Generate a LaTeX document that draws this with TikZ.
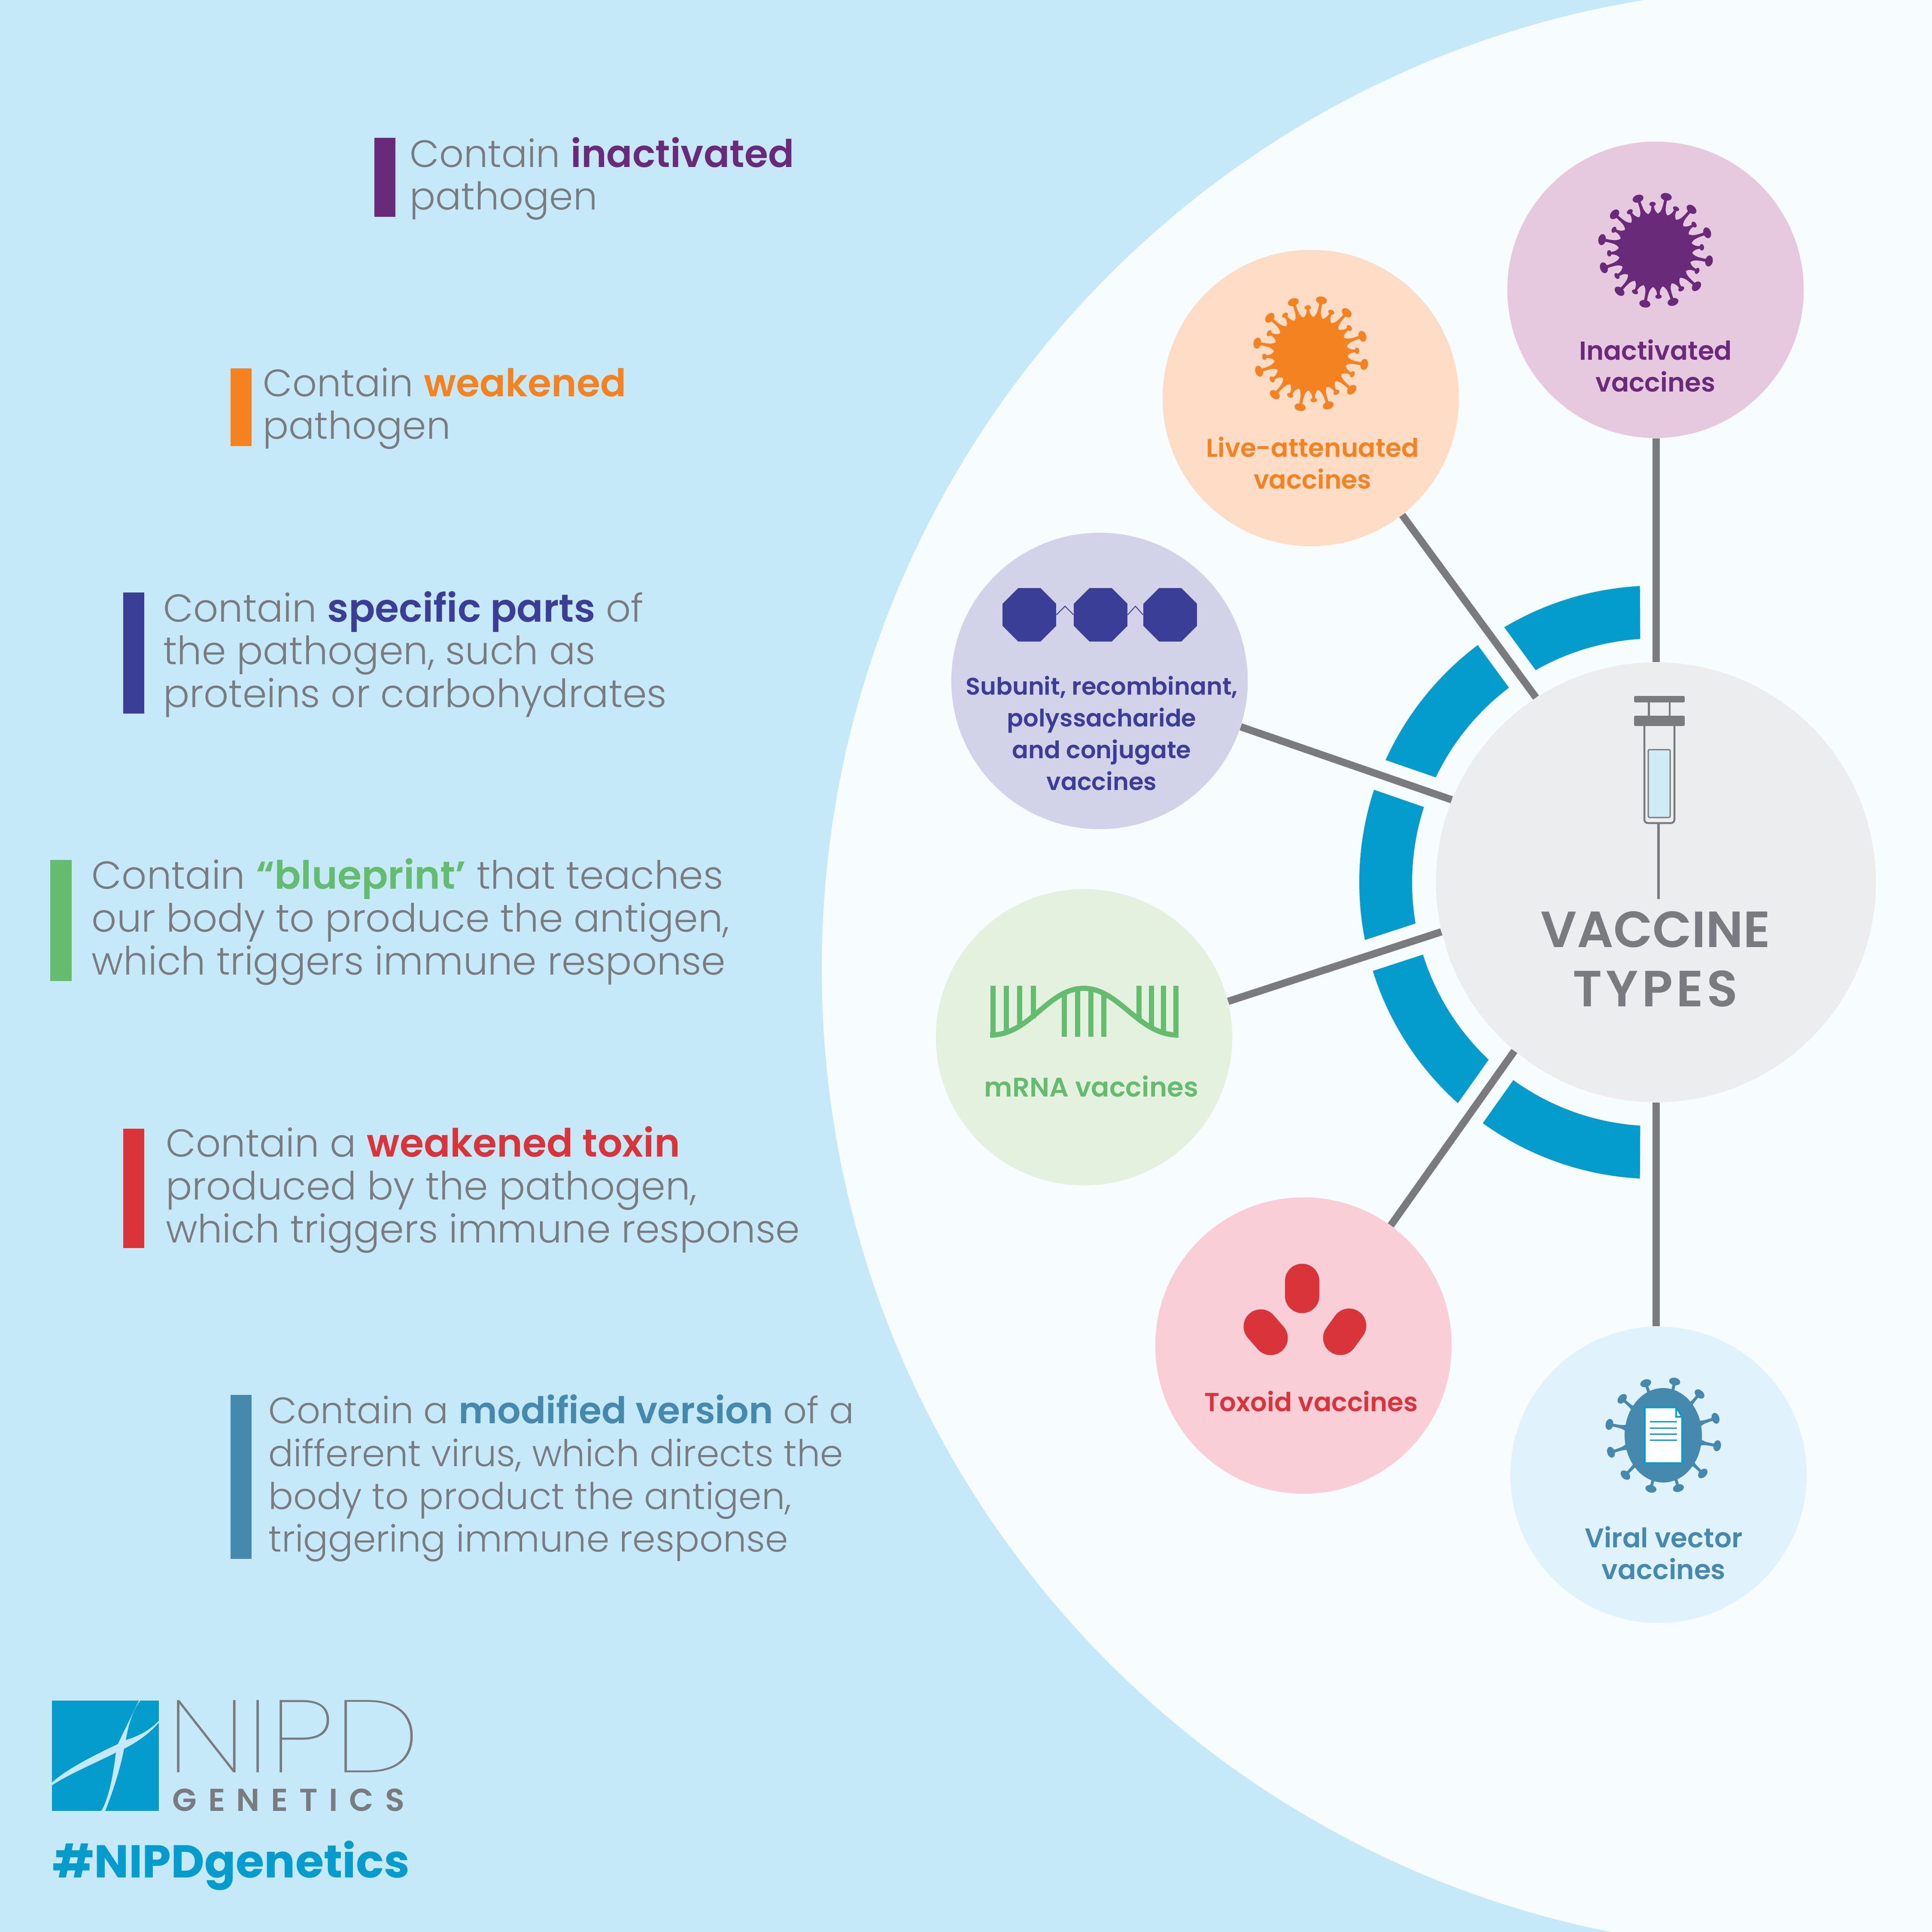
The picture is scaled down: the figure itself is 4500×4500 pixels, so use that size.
\documentclass[tikz,border=0pt]{standalone}
\usepackage{fontspec}
\setmainfont{Poppins}
\newfontfamily\poplight{Poppins Light}
\newfontfamily\popsemi{Poppins SemiBold}
\newfontfamily\popthin{Poppins Thin}
\usetikzlibrary{positioning,shapes.geometric}

\definecolor{skyback}{HTML}{C5E9F8}
\definecolor{paleback}{HTML}{F7FCFF}
\definecolor{ringblue}{HTML}{049CCD}
\definecolor{linkgray}{HTML}{797B7F}
\definecolor{hubgray}{HTML}{ECEDEE}
\definecolor{liquid}{HTML}{CFECF5}
\definecolor{inactpurple}{HTML}{6A2A7A}
\definecolor{inactsoft}{HTML}{E6C8DF}
\definecolor{liveorange}{HTML}{F58220}
\definecolor{livesoft}{HTML}{FFDCC6}
\definecolor{subnavy}{HTML}{3B3E96}
\definecolor{subsoft}{HTML}{D2D2E9}
\definecolor{rnagreen}{HTML}{64BC6F}
\definecolor{rnasoft}{HTML}{E5F1DF}
\definecolor{toxred}{HTML}{DA343B}
\definecolor{toxsoft}{HTML}{F9CED7}
\definecolor{viralteal}{HTML}{4589AE}
\definecolor{viralsoft}{HTML}{E0F3FD}

\tikzset{
  typecircle/.style={circle,minimum size=6.9cm,inner sep=0},
  typelabel/.style={inner sep=0,align=center,font=\popsemi\fontsize{17.3}{21}\selectfont},
  link/.style={draw=linkgray,line width=0.17cm},
  ringcut/.style={draw=paleback,line width=0.74cm},
  notebar/.style={rectangle,minimum width=0.49cm,inner sep=0},
  note/.style={inner sep=0,yshift=-0.03cm,align=left,text=linkgray,font=\poplight\fontsize{25.8}{28.4}\selectfont},
  octa/.style={regular polygon,regular polygon sides=8,
    minimum size=1.35cm,inner sep=0,fill=subnavy},
  capsule/.style={rectangle,rounded corners=0.4cm,minimum width=1.15cm,minimum height=0.8cm,
    inner sep=0,fill=toxred},
}

\newcommand{\hl}[2]{{\popsemi\color{#1}#2}}
% one spike: angle, head distance, head half width
\newcommand{\virusspike}[3]{%
  \fill (#1-9:84) .. controls (#1-3:90) and (#1-1.6:96) .. (#1-1.6:#2)
    -- (#1+1.6:#2) .. controls (#1+1.6:96) and (#1+3:90) .. (#1+9:84) -- cycle;
  \fill[shift={(#1:#2)},rotate=#1] (0,0) ellipse[x radius=0.68*#3,y radius=#3];
}

\begin{document}
\begin{tikzpicture}[x=0.01cm,y=0.01cm]
  \useasboundingbox (0,0) rectangle (4500,-4500);
  \clip (0,0) rectangle (4500,-4500);
  \fill[skyback] (0,0) rectangle (4500,-4500);
  \fill[paleback] (4201,-2257) circle (2287);

  % ring round the hub
  \coordinate (ringc) at (3857,-2055);
  \fill[ringblue] ([shift={(93.1:691)}]ringc) arc[start angle=93.1,end angle=266.9,radius=691]
    -- ([shift={(266.3:568)}]ringc) arc[start angle=266.3,end angle=93.7,radius=568] -- cycle;

  % circles
  \node[typecircle,fill=hubgray,minimum size=10.24cm] (hub) at (3857,-2055) {};
  \node[typecircle,fill=inactsoft] (inact) at (3856,-675) {};
  \node[typecircle,fill=livesoft] (live) at (3053,-927) {};
  \node[typecircle,fill=subsoft] (sub) at (2561,-1586) {};
  \node[typecircle,fill=rnasoft] (rna) at (2525,-2416) {};
  \node[typecircle,fill=toxsoft] (tox) at (3036,-3134) {};
  \node[typecircle,fill=viralsoft] (viral) at (3863,-3435) {};

  % gaps in the ring, then the links
  \path[ringcut] (live.-52.8) -- (hub.123);
  \path[ringcut] (sub.-18.5) -- (hub.158.1);
  \path[ringcut] (rna.14.8) -- (hub.193.4);
  \path[ringcut] (tox.54.1) -- (hub.230.9);
  \path[link] (hub.north) -- (hub.north |- inact.south);
  \path[link] (live.-52.8) -- (hub.123);
  \path[link] (sub.-18.5) -- (hub.158.1);
  \path[link] (rna.14.8) -- (hub.193.4);
  \path[link] (tox.54.1) -- (hub.230.9);
  \path[link] (hub.south) -- (hub.south |- viral.north);

  % labels in the circles
  \node[typelabel,text=inactpurple] (inacttext) at (3856,-852) {Inactivated\\vaccines};
  \node[typelabel,text=liveorange,font=\popsemi\fontsize{17}{21}\selectfont] (livetext) at (3057,-1078) {Live-attenuated\\vaccines};
  \node[typelabel,text=subnavy,font=\popsemi\fontsize{15.9}{21}\selectfont] (subtext) at (2566,-1708) {Subunit, recombinant,\\polyssacharide\\and conjugate\\vaccines};
  \node[typelabel,text=rnagreen,font=\popsemi\fontsize{17.8}{21}\selectfont] (rnatext) at (2542,-2530) {mRNA vaccines};
  \node[typelabel,text=toxred] (toxtext) at (3054,-3264) {Toxoid vaccines};
  \node[typelabel,text=viralteal,font=\popsemi\fontsize{17.9}{21}\selectfont] (viraltext) at (3875,-3617) {Viral vector\\vaccines};
  \node[inner sep=0,align=center,text=linkgray,font=\popsemi\fontsize{33.7}{39}\selectfont] (hubtext) at (3856,-2234) {VACCINE\\\addfontfeature{LetterSpace=7}TYPES};

  % viruses
  \begin{scope}[shift={(3856,-583)},fill=inactpurple]
    \fill (0,0) circle (86);
    \foreach \a in {0,30,...,330} {\virusspike{78.7+\a}{127}{13} \virusspike{63.7+\a}{108}{7.5}}
  \end{scope}
  \begin{scope}[shift={(3053,-824)},fill=liveorange]
    \fill (0,0) circle (86);
    \foreach \a in {0,30,...,330} {\virusspike{78.7+\a}{127}{13} \virusspike{63.7+\a}{108}{7.5}}
  \end{scope}
  \begin{scope}[shift={(3874,-3343)},fill=viralteal]
    \fill (0,0) ellipse[x radius=90,y radius=110];
    \foreach \a in {108.6,78,48.7,18,-11,-44,-74,-103,-133.5,-162,168.6,138.4} {\virusspike{\a}{128}{13}}
  \end{scope}
  \filldraw[fill=white,draw=ringblue,line width=0.04cm] (3831,-3278) -- (3904,-3278) -- (3918,-3300) -- (3918,-3408) -- (3831,-3408) -- cycle;
  \draw[ringblue,line width=0.04cm] (3904,-3278) -- (3904,-3300) -- (3918,-3300);
  \foreach \y in {3311,3326,3340,3354} {\draw[ringblue,line width=0.03cm] (3843,-\y) -- (3906,-\y);}

  % octagon chain
  \node[octa] (octa) at (2397.5,-1432) {};
  \node[octa] (octb) at (2563.5,-1432) {};
  \node[octa] (octc) at (2725.5,-1432) {};
  \draw[subnavy,line width=0.02cm] (octa.east) -- ++(20,20) -- (octb.west);
  \draw[subnavy,line width=0.02cm] (octb.east) -- ++(18,20) -- (octc.west);

  % mRNA strand
  \begin{scope}[line width=0.12cm]
    \foreach \x/\b in {2312.6/2411,2344/2405,2375/2392,2407/2372,2653/2377,2682/2397,2710/2405,2739/2411} {\draw[rnagreen] (\x,-2296) -- (\x,-\b);}
    \foreach \x/\t in {2479/2315,2510/2303,2541/2303,2571/2315} {\draw[rnagreen] (\x,-\t) -- (\x,-2415);}
    \draw[rnagreen] (2306,-2411) .. controls (2400,-2411) and (2440,-2302) .. (2524,-2302)
      .. controls (2608,-2302) and (2650,-2411) .. (2745,-2411);
  \end{scope}

  % toxins
  \node[capsule,rotate=90] (capa) at (3033,-3001) {};
  \node[capsule,rotate=-49] (capb) at (2948,-3103) {};
  \node[capsule,rotate=54] (capc) at (3132,-3102) {};

  % syringe
  \fill[linkgray,rounded corners=0.03cm] (3806,-1621) rectangle (3924,-1636);
  \fill[linkgray,rounded corners=0.03cm] (3806,-1667) rectangle (3924,-1691);
  \fill[linkgray] (3838,-1636) rectangle (3843,-1667) (3887,-1636) rectangle (3891,-1667);
  \draw[linkgray,line width=0.045cm,rounded corners=0.08cm] (3830,-1691) -- (3830,-1917) -- (3900,-1917) -- (3900,-1691);
  \filldraw[fill=liquid,draw=linkgray,line width=0.03cm,rounded corners=0.03cm] (3839,-1746) rectangle (3890,-1904);
  \draw[linkgray,line width=0.06cm] (3863,-1919) -- (3863,-2094);

  % notes on the left
  \node[notebar,fill=inactpurple,minimum height=1.84cm] (bara) at (896.5,-413) {};
  \node[note,font=\poplight\fontsize{25.3}{28.4}\selectfont,right=0.32cm of bara] (notea) {Contain \hl{inactpurple}{inactivated}\\pathogen};
  \node[notebar,fill=liveorange,minimum height=1.81cm] (barb) at (561.5,-948.5) {};
  \node[note,font=\poplight\fontsize{25.3}{28.4}\selectfont,right=0.25cm of barb] (noteb) {Contain \hl{liveorange}{weakened}\\pathogen};
  \node[notebar,fill=subnavy,minimum height=2.82cm] (barc) at (311.5,-1521) {};
  \node[note,right=0.43cm of barc] (notec) {Contain \hl{subnavy}{specific parts} of\\the pathogen, such as\\proteins or carbohydrates};
  \node[notebar,fill=rnagreen,minimum height=2.82cm] (bard) at (142,-2144) {};
  \node[note,right=0.46cm of bard] (noted) {Contain \hl{rnagreen}{“blueprint’} that teaches\\our body to produce the antigen,\\which triggers immune response};
  \node[notebar,fill=toxred,minimum height=2.78cm] (bare) at (311.5,-2768) {};
  \node[note,right=0.49cm of bare] (notee) {Contain a \hl{toxred}{weakened toxin}\\produced by the pathogen,\\which triggers immune response};
  \node[notebar,fill=viralteal,minimum height=3.82cm] (barf) at (561.5,-3440) {};
  \node[note,font=\poplight\fontsize{24.4}{28.4}\selectfont,right=0.38cm of barf] (notef) {Contain a \hl{viralteal}{modified version} of a\\different virus, which directs the\\body to product the antigen,\\triggering immune response};

  % logo
  \node[rectangle,fill=ringblue,minimum width=2.49cm,minimum height=2.57cm,inner sep=0] (logo) at (245.5,-4089.5) {};
  \fill[skyback] (323.6,-3961) .. controls (298,-4015) and (282,-4045) .. (275,-4062)
    -- (270,-4082) .. controls (262,-4150) and (250,-4195) .. (236,-4218)
    -- (245,-4218) .. controls (268,-4160) and (282,-4110) .. (289,-4073)
    -- (293,-4053) .. controls (300,-4010) and (312,-3980) .. (326.7,-3961) -- cycle;
  \fill[skyback] (370,-4008) .. controls (350,-4030) and (320,-4045) .. (293,-4053)
    -- (275,-4062) .. controls (205,-4095) and (150,-4125) .. (121,-4152)
    -- (121,-4158) .. controls (165,-4130) and (225,-4105) .. (270,-4082)
    -- (289,-4073) .. controls (325,-4055) and (350,-4035) .. (370,-4012) -- cycle;
  \node[inner sep=0,anchor=west,text=linkgray,font=\popthin\fontsize{68}{68}\selectfont] (nipd) at (388,-4044) {\scalebox{1.195}[1]{NIPD}};
  \node[inner sep=0,anchor=base west,text height=15pt,text depth=0pt,text=linkgray,font=\popsemi\fontsize{21}{21}\selectfont\addfontfeature{LetterSpace=36}] (genetics) at (401,-4218) {GENETICS};
  \node[inner sep=0,anchor=base west,text height=22pt,text depth=7pt,text=ringblue,font=\fontsize{30.5}{30.5}\selectfont\bfseries] (hashtag) at (122,-4373) {\#NIPDgenetics};
\end{tikzpicture}
\end{document}
